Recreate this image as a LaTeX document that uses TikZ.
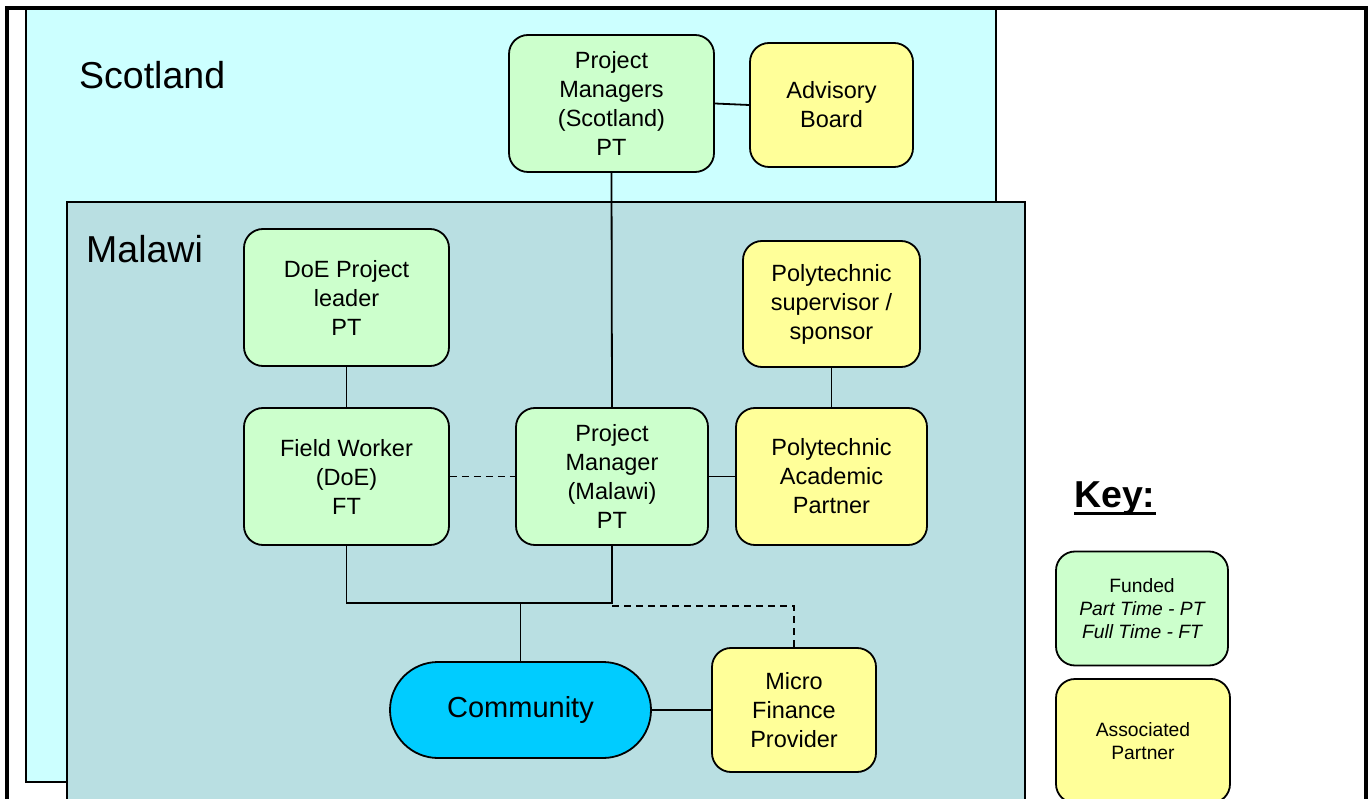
\documentclass[tikz,border=0pt]{standalone}
\usepackage{fontspec}
\setmainfont{Liberation Sans}
\definecolor{scotfill}{RGB}{204,255,255}
\definecolor{malfill}{RGB}{185,223,226}
\definecolor{fundgreen}{RGB}{204,255,204}
\definecolor{assocyellow}{RGB}{255,255,153}
\definecolor{commblue}{RGB}{0,204,255}
\tikzset{
  box/.style={draw, line width=1.8, rounded corners=19, align=center, inner sep=0,
    font=\fontsize{23.5}{29}\selectfont},
  fundbox/.style={box, fill=fundgreen},
  assocbox/.style={box, fill=assocyellow},
  link/.style={line width=1.8},
  dlink/.style={line width=1.8, dash pattern=on 7 off 5},
  region/.style={draw, line width=2},
  heading/.style={anchor=base west, inner sep=0, font=\fontsize{37.5}{45}\selectfont}
}
\begin{document}
\begin{tikzpicture}[x=1pt,y=-1pt]
\useasboundingbox (0,0) rectangle (1371,799);
\clip (0,0) rectangle (1371,799);
\fill[white] (0,0) rectangle (1371,799);
% regions
\draw[region, fill=scotfill] (26,9) rectangle (996,782);
\draw[region, line width=2.6, fill=malfill] (67,202) rectangle (1025,830);
\draw[line width=3.5] (7,8) rectangle (1366,830);
\node[heading] (scot) at (79,89) {Scotland};
\node[heading] (malawi) at (86,263) {Malawi};
% nodes
\node[fundbox, minimum width=205, minimum height=137] (pms) at (611.5,103.5) {Project\\Managers\\(Scotland)\\PT};
\node[assocbox, minimum width=163, minimum height=124] (adv) at (831.5,105) {Advisory\\Board};
\node[fundbox, minimum width=205, minimum height=137] (doe) at (346.5,297.5) {DoE Project\\leader\\PT};
\node[assocbox, minimum width=177, minimum height=126] (polysup) at (831.5,304) {Polytechnic\\supervisor /\\sponsor};
\node[fundbox, minimum width=205, minimum height=137] (field) at (346.5,476.5) {Field Worker\\(DoE)\\FT};
\node[fundbox, minimum width=192, minimum height=137] (pmm) at (612,476.5) {Project\\Manager\\(Malawi)\\PT};
\node[assocbox, minimum width=191, minimum height=137] (polyac) at (831.5,476.5) {Polytechnic\\Academic\\Partner};
\node[box, fill=commblue, rounded corners=48, minimum width=261, minimum height=96,
  font=\fontsize{29}{34}\selectfont] (comm) at (520.5,710) {Community};
\node[assocbox, minimum width=164, minimum height=124] (micro) at (794,710) {Micro\\Finance\\Provider};
% key
\node[anchor=base west, inner sep=0, font=\fontsize{37.5}{44}\selectfont\bfseries] (key) at (1074,507) {Key:};
\draw[line width=3] ([yshift=-6]key.base west) -- ([yshift=-6]key.base east);
\node[fundbox, minimum width=172, minimum height=114, font=\fontsize{19.3}{23.3}\selectfont] (kfund) at (1142,608.5) {Funded\\\itshape Part Time - PT\\\itshape Full Time - FT};
\node[assocbox, minimum width=174, minimum height=124, font=\fontsize{19.3}{23.3}\selectfont] (kassoc) at (1143,741) {Associated\\Partner};
% connectors
\coordinate (j) at (520.5,603);
\coordinate (d) at (612,606);
\draw[link] (pms.south) -- (pmm.north);
\draw[link] (pms.east) -- (adv.west);
\draw[link] (doe.south) -- (field.north);
\draw[link] (polysup.south) -- (polyac.north);
\draw[dlink] (field.east) -- (pmm.west);
\draw[link] (pmm.east) -- (polyac.west);
\draw[link] (field.south) |- (j) -| (pmm.south);
\draw[link] (comm.north) -- (j);
\draw[dlink] (d) -| (micro.north);
\draw[link] (comm.east) -- (micro.west);
\end{tikzpicture}
\end{document}
